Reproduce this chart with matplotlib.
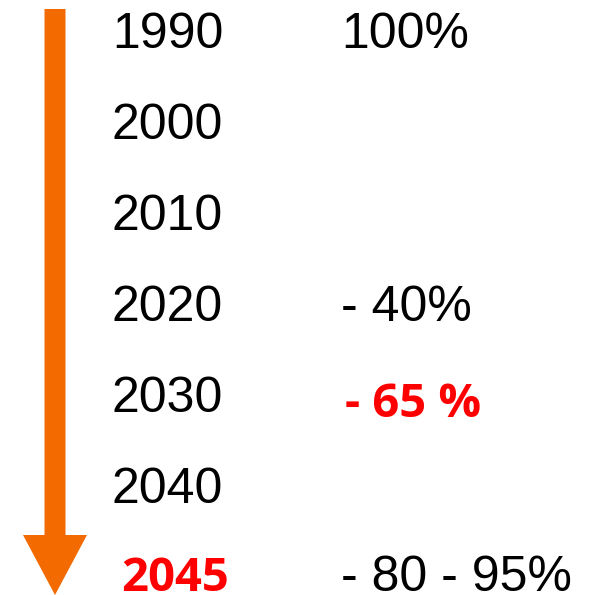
import matplotlib
matplotlib.use("Agg")
import matplotlib.pyplot as plt
from matplotlib.patches import FancyArrow

years = ["1990", "2000", "2010", "2020", "2030", "2040", "2045"]
year_baselines = [48, 139, 230, 321, 412, 503, 591]
year_highlight = [False, False, False, False, False, False, True]

targets = ["100%", "- 40%", "- 65 %", "- 80 - 95%"]
target_baselines = [48, 321, 417, 591]
target_highlight = [False, False, True, False]

W, H = 591, 595
fig = plt.figure(figsize=(W / 100, H / 100), dpi=100)
ax = fig.add_axes([0, 0, 1, 1])
ax.set_xlim(0, W)
ax.set_ylim(H, 0)
ax.axis("off")

orange = "#F26A00"
ax.add_patch(FancyArrow(55, 9, 0, 586, width=21, head_width=64, head_length=60,
                        length_includes_head=True, color=orange, lw=0))

normal = dict(family="Liberation Sans", fontsize=36, color="black", va="baseline")
bold = dict(family="Open Sans", fontsize=34, fontweight="bold", color="#FF0000", va="baseline")

for y, b, hl in zip(years, year_baselines, year_highlight):
    if hl:
        ax.text(121, b, y, **bold)
    else:
        ax.text(112, b, y, **normal)

for t, b, hl in zip(targets, target_baselines, target_highlight):
    if hl:
        ax.text(345, b, t, **bold)
    else:
        ax.text(341, b, t, **normal)

fig.savefig("out.png", dpi=100)
